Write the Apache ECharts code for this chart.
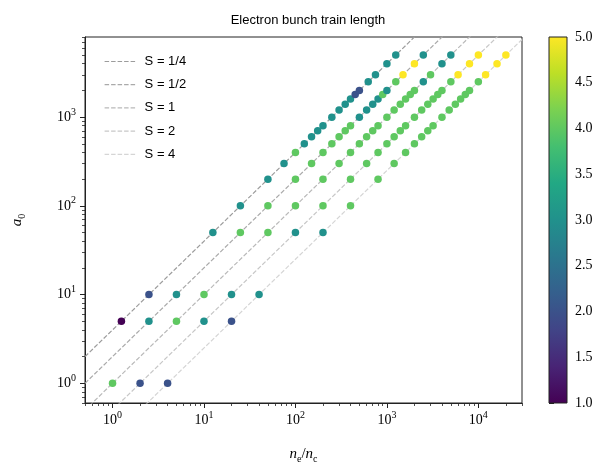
<!DOCTYPE html>
<html>
<head>
<meta charset="utf-8">
<script src="https://cdn.jsdelivr.net/npm/echarts@6/dist/echarts.min.js"></script>
<style>
html,body{margin:0;padding:0;background:#fff;}
#chart{width:611px;height:470px;}
</style>
</head>
<body>
<div id="chart"></div>
<script>
// ---- data ----
const sValues = [0.25, 0.5, 1, 2, 4];
const sLabels = ['S = 1/4', 'S = 1/2', 'S = 1', 'S = 2', 'S = 4'];
const lineColors = ['#9c9c9c', '#aaaaaa', '#b9b9b9', '#c7c7c7', '#d5d5d5'];

// a0 values per S line
const a0_S1_4 = [5, 10, 50, 100, 200, 300, 400, 500, 600, 700, 800, 1000, 1200, 1400, 1600, 1800, 2000, 2500, 3000, 4000, 5000];
const a0_S1_2 = [5, 10, 50, 100, 200, 300, 400, 500, 600, 700, 800, 1000, 1200, 1400, 1600, 1800, 2000, 2500, 3000, 4000, 5000];
const a0_S1   = [1, 5, 10, 50, 100, 200, 300, 400, 500, 600, 700, 800, 1000, 1200, 1400, 1600, 1800, 2000, 2500, 3000, 4000, 5000];
const a0_S2   = [1, 5, 10, 50, 100, 200, 300, 400, 500, 600, 700, 800, 1000, 1200, 1400, 1600, 1800, 2000, 2500, 3000, 4000, 5000];
const a0_S4   = [1, 5, 10, 50, 100, 200, 300, 400, 500, 600, 700, 800, 1000, 1200, 1400, 1600, 1800, 2000, 2500, 3000, 4000, 5000];

// bunch train length (colour value) per point
const len_S1_4 = [1, 2, 3, 3, 3, 3, 4, 3, 3, 3, 3, 3, 3, 3, 3, 2, 2, 3, 3, 3, 3];
const len_S1_2 = [3, 3, 4, 4, 4, 4, 4, 4, 4, 4, 4, 3, 3, 3, 3, 4, 3, 4, 5, 5, 3];
const len_S1   = [4, 4, 4, 4, 4, 4, 4, 4, 4, 4, 4, 4, 4, 4, 4, 4, 4, 4, 3, 4, 3, 3];
const len_S2   = [2, 3, 3, 3, 4, 4, 4, 4, 4, 4, 4, 4, 4, 4, 4, 4, 4, 4, 4, 5, 5, 5];
const len_S4   = [2, 2, 3, 3, 4, 4, 4, 4, 4, 4, 4, 4, 4, 4, 4, 4, 4, 4, 4, 5, 5, 5];

const xTickValues = [1, 10, 100, 1000, 10000];
const yTickValues = [1, 10, 100, 1000];

const xMin = 0.5, xMax = 30000, yMin = 0.6, yMax = 8000;

const viridis = ['#440154','#482475','#414487','#355f8d','#2a788e','#21918c','#22a884','#44bf70','#7ad151','#bddf26','#fde725'];

// ---- build ----
function minorTicks(lo, hi) {
  const out = [];
  for (let e = -1; e <= 5; e++) {
    for (let k = 2; k <= 9; k++) {
      const v = +(k * Math.pow(10, e)).toPrecision(6);
      if (v >= lo && v <= hi) out.push(v);
    }
  }
  return out;
}
const xMinor = minorTicks(xMin, xMax);
const yMinor = minorTicks(yMin, yMax);

const a0Lists = [a0_S1_4, a0_S1_2, a0_S1, a0_S2, a0_S4];
const lenLists = [len_S1_4, len_S1_2, len_S1, len_S2, len_S4];

const serif = "'Liberation Serif', 'DejaVu Serif', serif";
const sans = "'Liberation Sans', Arial, sans-serif";

const powRich = {
  s: { fontSize: 10, lineHeight: 10, verticalAlign: 'top', fontFamily: serif, color: '#000' }
};
function powLabel(v) {
  return '10{s|' + Math.round(Math.log10(v)) + '}';
}

const series = [];
sValues.forEach((S, i) => {
  series.push({
    name: sLabels[i],
    type: 'line',
    xAxisIndex: 0, yAxisIndex: 0,
    data: [[xMin, xMin / S], [xMax, xMax / S]],
    symbol: 'none',
    silent: true,
    clip: true,
    z: 1,
    lineStyle: { color: lineColors[i], width: 1.2, type: [4.5, 2] },
    itemStyle: { color: lineColors[i] }
  });
});
const scatterIdx = [];
sValues.forEach((S, i) => {
  scatterIdx.push(series.length);
  series.push({
    type: 'scatter',
    xAxisIndex: 0, yAxisIndex: 0,
    data: a0Lists[i].map((a0, j) => [a0 * S, a0, lenLists[i][j]]),
    symbolSize: 7.5,
    z: 5,
    itemStyle: { opacity: 1 }
  });
});

function logAxis(grid, min, max, major, minor, isX) {
  const common = {
    type: 'log', logBase: 10, gridIndex: grid, min: min, max: max,
    splitLine: { show: false }, minorTick: { show: false }, minorSplitLine: { show: false }
  };
  const a = Object.assign({}, common, {
    position: isX ? 'bottom' : 'left',
    axisLine: { show: true, lineStyle: { color: '#222', width: 1 } },
    axisTick: { show: true, inside: false, length: 5, lineStyle: { color: '#222', width: 1 }, customValues: major },
    axisLabel: { show: true, customValues: major, formatter: powLabel, rich: powRich,
      fontFamily: serif, fontSize: 14, color: '#000', lineHeight: 20, margin: isX ? 7 : 9 }
  });
  const b = Object.assign({}, common, {
    position: isX ? 'bottom' : 'left',
    axisLine: { show: false },
    axisTick: { show: true, inside: false, length: 3, lineStyle: { color: '#222', width: 0.8 }, customValues: minor },
    axisLabel: { show: false }
  });
  return [a, b];
}

const xAxes = logAxis(0, xMin, xMax, xTickValues, xMinor, true);
xAxes[0].name = '{i|n}{sb|e}{r|/}{i|n}{sb|c}';
xAxes[0].nameLocation = 'middle';
xAxes[0].nameGap = 41;
xAxes[0].nameTextStyle = {
  rich: {
    i: { fontFamily: serif, fontStyle: 'italic', fontSize: 15, lineHeight: 20, color: '#000' },
    r: { fontFamily: serif, fontSize: 15, lineHeight: 20, color: '#000' },
    sb: { fontFamily: serif, fontSize: 10, lineHeight: 9, verticalAlign: 'bottom', color: '#000' }
  }
};
const yAxes = logAxis(0, yMin, yMax, yTickValues, yMinor, false);
yAxes[0].name = '{i|a}{sb|0}';
yAxes[0].nameLocation = 'middle';
yAxes[0].nameRotate = 90;
yAxes[0].nameGap = 58;
yAxes[0].nameTextStyle = {
  rich: {
    i: { fontFamily: serif, fontStyle: 'italic', fontSize: 15, lineHeight: 20, color: '#000' },
    sb: { fontFamily: serif, fontSize: 10, lineHeight: 9, verticalAlign: 'bottom', color: '#000' }
  }
};

// colour bar axis
yAxes.push({
  type: 'value', gridIndex: 1, min: 1, max: 5, interval: 0.5, position: 'right',
  axisLine: { show: false },
  splitLine: { show: false },
  axisTick: { show: true, inside: false, length: 5, lineStyle: { color: '#222' } },
  axisLabel: { show: true, fontFamily: serif, fontSize: 14, color: '#000', margin: 8,
    formatter: v => Number(v).toFixed(1) }
});
xAxes.push({ type: 'value', gridIndex: 1, show: false, min: 0, max: 1 });

const chart = echarts.init(document.getElementById('chart'), null, { renderer: 'canvas' });
chart.setOption({
  animation: false,
  backgroundColor: '#fff',
  title: {
    text: 'Electron bunch train length',
    left: 303, top: 9, textAlign: 'center',
    textStyle: { fontFamily: sans, fontSize: 13, fontWeight: 'normal', color: '#000' }
  },
  legend: {
    data: sLabels,
    orient: 'vertical',
    left: 99, top: 49,
    itemWidth: 31, itemHeight: 14, itemGap: 8.2,
    itemStyle: { opacity: 0 },
    lineStyle: { width: 1.2 },
    textStyle: { fontFamily: sans, fontSize: 13, color: '#000', padding: [0, 0, 0, 4], lineHeight: 15 },
    selectedMode: false
  },
  grid: [
    { left: 85, top: 37, width: 437, height: 366, show: true, borderColor: '#222', borderWidth: 1, backgroundColor: 'transparent' },
    { left: 549, top: 37, width: 18, height: 366, show: false }
  ],
  xAxis: xAxes,
  yAxis: yAxes,
  visualMap: {
    type: 'continuous', show: false, min: 1, max: 5, dimension: 2,
    seriesIndex: scatterIdx,
    inRange: { color: viridis }
  },
  graphic: [{
    type: 'rect',
    shape: { x: 549, y: 37, width: 18, height: 366 },
    style: {
      fill: { type: 'linear', x: 0, y: 0, x2: 0, y2: 1,
        colorStops: viridis.slice().reverse().map((c, i, arr) => ({ offset: i / (arr.length - 1), color: c })) },
      stroke: '#222', lineWidth: 1
    },
    z: 10
  }],
  series: series
});
</script>
</body>
</html>
